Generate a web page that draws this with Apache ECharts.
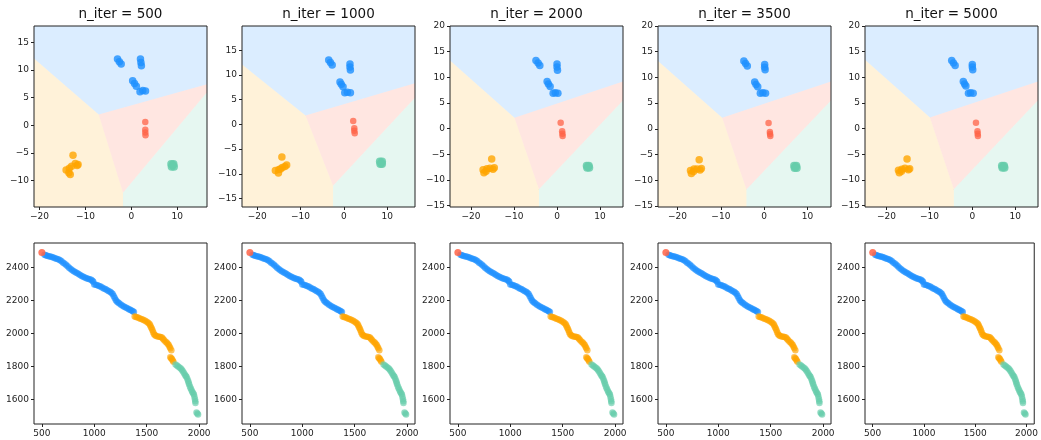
<!DOCTYPE html>
<html>
<head>
<meta charset="utf-8">
<script src="https://cdn.jsdelivr.net/npm/echarts@6/dist/echarts.min.js"></script>
<style>
html,body{margin:0;padding:0;background:#fff;}
#graph{width:1041px;height:440px;}
</style>
</head>
<body>
<div id="graph"></div>
<script>
// panel titles
var iters = [500, 1000, 2000, 3500, 5000];

// axis limits and ticks of the top row (embedding)
var xlim500 = [-21.2, 16.5], ylim500 = [-14.8, 18];
var xlim1000 = [-23.5, 16.4], ylim1000 = [-16.7, 19.9];
var xlim2000 = [-24.9, 15.35], ylim2000 = [-15.25, 20];
var xlim3500 = [-24.5, 15.4], ylim3500 = [-15.2, 20];
var xlim5000 = [-25.0, 15.3], ylim5000 = [-15.25, 20];
var xticksTop = [-20, -10, 0, 10];
var yticks500 = [-10, -5, 0, 5, 10, 15];
var yticks1000 = [-15, -10, -5, 0, 5, 10, 15];
var yticks2000 = [-15, -10, -5, 0, 5, 10, 15, 20];

// region borders: [left edge y of blue/orange, right edge y of blue/red, right edge y of red/green]
// triple points: [blue/orange/red, orange/red/green]
var cuts500 = [12.1, 7.45, 6.0], tri500 = [[-7.1, 1.95], [-1.8, -12.2]];
var cuts1000 = [12.1, 8.3, 5.4], tri1000 = [[-8.85, 1.8], [-2.5, -12.4]];
var cuts2000 = [13.3, 9.2, 5.5], tri2000 = [[-9.9, 2.15], [-4.2, -11.8]];
var cuts3500 = [13.2, 9.2, 5.5], tri3500 = [[-9.7, 2.15], [-4.1, -11.8]];
var cuts5000 = [13.45, 9.2, 5.55], tri5000 = [[-9.87, 2.17], [-4.3, -11.8]];

// embedded points per cluster
var blue500 = [[-3.0,12.0],[-2.6,11.5],[-2.2,11.1],[2.0,12.0],[2.1,11.4],[2.2,10.8],[0.3,8.1],[0.7,7.6],[1.1,7.1],[1.9,6.1],[2.5,6.3],[3.1,6.2]];
var red500 = [[3.05,0.6],[3.05,-0.8],[3.05,-1.3],[3.1,-1.8]];
var green500 = [[8.7,-7.0],[9.2,-7.0],[8.8,-7.5],[9.3,-7.5],[9.0,-7.2]];
var orange500 = [[-12.7,-5.4],[-12.2,-6.9],[-11.6,-7.1],[-11.8,-7.3],[-13.0,-7.4],[-13.5,-7.8],[-14.2,-8.1],[-13.6,-8.6],[-13.3,-8.9]];

var blue1000 = [[-3.5,13.0],[-3.1,12.5],[-2.7,12.0],[1.4,12.2],[1.4,11.6],[1.5,11.0],[-0.9,8.6],[-0.6,8.1],[-0.2,7.6],[0.2,6.4],[0.8,6.5],[1.5,6.4]];
var red1000 = [[2.15,0.7],[2.4,-0.8],[2.4,-1.3],[2.5,-1.8]];
var green1000 = [[8.3,-7.5],[8.8,-7.5],[8.4,-8.0],[8.8,-8.0],[8.6,-7.8]];
var orange1000 = [[-14.3,-6.6],[-13.2,-8.2],[-13.6,-8.5],[-14.2,-8.7],[-15.0,-9.1],[-15.8,-9.3],[-15.1,-9.8],[-14.6,-9.0]];

var blue2000 = [[-4.9,13.3],[-4.4,12.8],[-4.0,12.3],[0.0,12.6],[0.0,12.0],[0.1,11.4],[-2.3,9.2],[-2.0,8.7],[-1.6,8.2],[-0.9,6.9],[-0.4,7.0],[0.2,6.9]];
var red2000 = [[0.85,1.15],[1.2,-0.5],[1.25,-1.0],[1.3,-1.4]];
var green2000 = [[6.9,-7.2],[7.4,-7.2],[7.0,-7.6],[7.5,-7.6],[7.2,-7.4]];
var orange2000 = [[-15.2,-5.9],[-14.6,-7.6],[-14.9,-7.9],[-15.6,-7.7],[-16.3,-7.8],[-17.2,-8.0],[-17.0,-8.6],[-16.5,-8.3]];

var blue3500 = [[-4.7,13.2],[-4.3,12.7],[-3.9,12.2],[0.1,12.5],[0.1,12.0],[0.2,11.5],[-2.2,9.1],[-1.9,8.6],[-1.5,8.2],[-0.9,6.9],[-0.3,7.0],[0.3,6.9]];
var red3500 = [[1.0,1.15],[1.3,-0.6],[1.35,-1.0],[1.4,-1.4]];
var green3500 = [[6.9,-7.2],[7.4,-7.2],[7.0,-7.6],[7.5,-7.6],[7.2,-7.4]];
var orange3500 = [[-15.0,-6.0],[-14.5,-7.7],[-14.8,-8.0],[-15.5,-7.8],[-16.2,-7.8],[-17.0,-8.1],[-16.8,-8.7],[-16.3,-8.3]];

var blue5000 = [[-4.8,13.3],[-4.4,12.8],[-4.0,12.3],[0.0,12.5],[0.0,12.0],[0.1,11.5],[-2.1,9.2],[-1.8,8.7],[-1.5,8.3],[-0.9,6.9],[-0.4,7.0],[0.2,6.9]];
var red5000 = [[0.85,1.15],[1.2,-0.5],[1.25,-1.0],[1.3,-1.4]];
var green5000 = [[6.9,-7.2],[7.4,-7.2],[7.0,-7.6],[7.5,-7.6],[7.2,-7.4]];
var orange5000 = [[-15.2,-5.9],[-14.6,-7.8],[-14.9,-8.0],[-15.7,-7.7],[-16.4,-7.9],[-17.2,-8.1],[-17.0,-8.6],[-16.5,-8.3]];

// bottom row (original curve), same in every panel
var xlimBottom = [425, 2075], ylimBottom = [1450, 2550];
var xticksBottom = [500, 1000, 1500, 2000];
var yticksBottom = [1600, 1800, 2000, 2200, 2400];
var curveRed = [[500,2492]];
var curveBlue = [[525,2478],[537,2475],[550,2472],[565,2470],[580,2468],[595,2465],[610,2462],[625,2458],[640,2455],[655,2451],[670,2447],[685,2440],[700,2432],[715,2425],[730,2418],[745,2409],[760,2400],[775,2392],[790,2385],[805,2378],[820,2372],[835,2367],[850,2362],[865,2356],[880,2350],[895,2345],[910,2340],[925,2336],[940,2333],[955,2330],[970,2326],[982,2321],[990,2315],[1000,2298],[1015,2296],[1030,2293],[1045,2289],[1060,2285],[1075,2279],[1090,2274],[1105,2270],[1120,2265],[1135,2259],[1150,2253],[1163,2247],[1175,2240],[1185,2228],[1195,2215],[1205,2204],[1215,2195],[1228,2188],[1240,2182],[1255,2175],[1270,2168],[1285,2163],[1300,2158],[1315,2153],[1330,2148],[1342,2144],[1355,2140],[1367,2135],[1378,2130]];
var curveOrange = [[1385,2103],[1397,2100],[1410,2098],[1425,2094],[1440,2090],[1455,2086],[1470,2082],[1485,2077],[1500,2072],[1513,2066],[1525,2060],[1533,2050],[1540,2040],[1548,2030],[1555,2020],[1562,2007],[1570,1995],[1580,1990],[1590,1985],[1605,1982],[1620,1980],[1632,1978],[1645,1975],[1655,1968],[1665,1960],[1678,1952],[1690,1945],[1700,1938],[1710,1930],[1718,1920],[1725,1910],[1735,1898],[1725,1855],[1733,1850],[1740,1845],[1748,1836],[1755,1828]];
var curveGreen = [[1775,1812],[1788,1806],[1800,1800],[1813,1794],[1825,1788],[1835,1779],[1845,1770],[1855,1760],[1865,1750],[1873,1742],[1880,1735],[1888,1724],[1895,1712],[1900,1701],[1905,1690],[1913,1677],[1920,1665],[1928,1655],[1935,1645],[1943,1637],[1950,1630],[1955,1615],[1960,1600],[1963,1589],[1965,1578],[1975,1520],[1983,1514],[1990,1508]];

var colBlue = '#1E90FF', colOrange = '#FFA500', colRed = '#FF6347', colGreen = '#66CDAA';
var fillBlue = 'rgba(30,144,255,0.16)', fillOrange = 'rgba(255,165,0,0.15)',
    fillRed = 'rgba(255,99,71,0.16)', fillGreen = 'rgba(102,205,170,0.16)';

var lefts = [34, 242, 450, 658, 865];
var panelW = 173, panelH = 181;

function minus(v) {
    return String(v).replace('-', '\u2212');
}

function makeAxis(i, lim, ticks) {
    return {
        type: 'value',
        gridIndex: i,
        min: lim[0],
        max: lim[1],
        splitLine: { show: false },
        axisLine: { show: false, onZero: false },
        axisTick: { show: true, length: 3, lineStyle: { color: '#222' }, customValues: ticks },
        axisLabel: { fontSize: 9, color: '#222', margin: 5, fontFamily: 'DejaVu Sans',
                     customValues: ticks, formatter: minus }
    };
}

function regions(xlim, ylim, cuts, tri) {
    var t1 = tri[0], t2 = tri[1];
    return [
        [[xlim[0], ylim[1]], [xlim[1], ylim[1]], [xlim[1], cuts[1]], t1, [xlim[0], cuts[0]]],
        [[xlim[0], cuts[0]], t1, t2, [t2[0], ylim[0]], [xlim[0], ylim[0]]],
        [t1, [xlim[1], cuts[1]], [xlim[1], cuts[2]], t2],
        [t2, [xlim[1], cuts[2]], [xlim[1], ylim[0]], [t2[0], ylim[0]]]
    ];
}

function scatter(i, data, color, size, alpha) {
    return {
        type: 'scatter', xAxisIndex: i, yAxisIndex: i, data: data,
        symbolSize: size, z: 3, silent: true,
        itemStyle: { color: color, opacity: alpha }
    };
}

function draw() {
    var dom = document.getElementById('graph');
    var myChart = echarts.init(dom, null, { renderer: 'canvas' });
    var xlims = [xlim500, xlim1000, xlim2000, xlim3500, xlim5000];
    var ylims = [ylim500, ylim1000, ylim2000, ylim3500, ylim5000];
    var yticks = [yticks500, yticks1000, yticks2000, yticks2000, yticks2000];
    var cuts = [cuts500, cuts1000, cuts2000, cuts3500, cuts5000];
    var tris = [tri500, tri1000, tri2000, tri3500, tri5000];
    var blues = [blue500, blue1000, blue2000, blue3500, blue5000];
    var reds = [red500, red1000, red2000, red3500, red5000];
    var greens = [green500, green1000, green2000, green3500, green5000];
    var oranges = [orange500, orange1000, orange2000, orange3500, orange5000];
    var fills = [fillBlue, fillOrange, fillRed, fillGreen];

    var grid = [], xAxis = [], yAxis = [], series = [], title = [];
    for (var i = 0; i < 5; i++) {
        grid.push({ left: lefts[i], top: 26, width: panelW, height: panelH,
                    show: true, borderColor: '#222', borderWidth: 1, z: 5 });
        xAxis.push(makeAxis(i, xlims[i], xticksTop));
        yAxis.push(makeAxis(i, ylims[i], yticks[i]));
        title.push({ text: 'n_iter = ' + iters[i], left: lefts[i] + panelW / 2, top: 7,
                     textAlign: 'center', padding: 0,
                     textStyle: { fontSize: 13.5, fontWeight: 'normal', color: '#111', fontFamily: 'DejaVu Sans' } });
        (function(polys) {
            series.push({
                type: 'custom', xAxisIndex: i, yAxisIndex: i, silent: true, z: 1,
                data: [[0, 0], [1, 0], [2, 0], [3, 0]],
                renderItem: function(params, api) {
                    var pts = polys[params.dataIndex].map(function(p) { return api.coord(p); });
                    return { type: 'polygon', shape: { points: pts }, style: { fill: fills[params.dataIndex] } };
                }
            });
        })(regions(xlims[i], ylims[i], cuts[i], tris[i]));
        series.push(scatter(i, blues[i], colBlue, 7.5, 0.8));
        series.push(scatter(i, oranges[i], colOrange, 7.5, 0.8));
        series.push(scatter(i, greens[i], colGreen, 8, 0.85));
        series.push(scatter(i, reds[i], colRed, 6.5, 0.75));
    }
    for (var j = 0; j < 5; j++) {
        var k = j + 5;
        grid.push({ left: lefts[j], top: 243, width: panelW, height: panelH,
                    show: true, borderColor: '#222', borderWidth: 1, z: 5 });
        xAxis.push(makeAxis(k, xlimBottom, xticksBottom));
        yAxis.push(makeAxis(k, ylimBottom, yticksBottom));
        series.push(scatter(k, curveBlue, colBlue, 6.5, 0.65));
        series.push(scatter(k, curveOrange, colOrange, 6.5, 0.65));
        series.push(scatter(k, curveGreen, colGreen, 6.5, 0.65));
        series.push(scatter(k, curveRed, colRed, 7, 0.85));
    }

    var option = {
        animation: false,
        backgroundColor: '#fff',
        title: title,
        grid: grid,
        xAxis: xAxis,
        yAxis: yAxis,
        series: series
    };
    myChart.setOption(option, true);
}
draw();
</script>
</body>
</html>
